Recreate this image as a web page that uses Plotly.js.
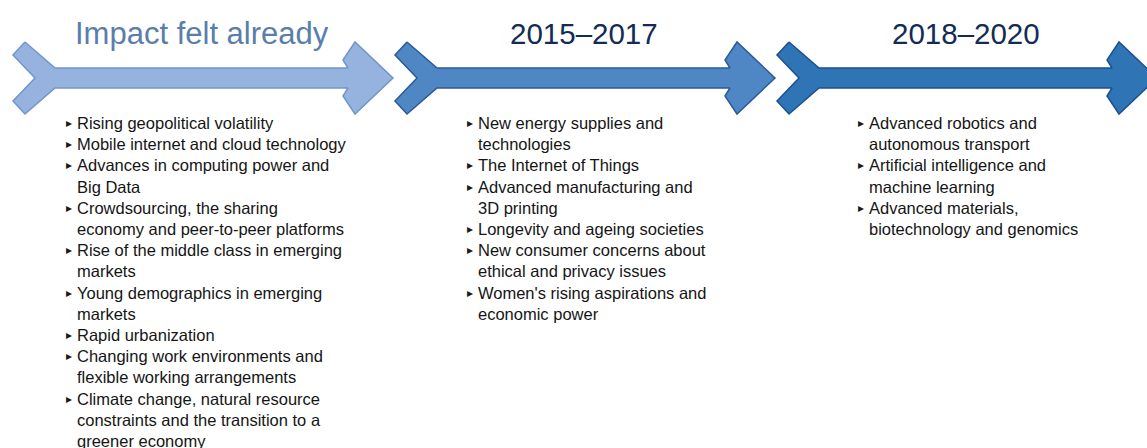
<!DOCTYPE html>
<html>
<head>
<meta charset="utf-8">
<script src="https://cdn.plot.ly/plotly-3.0.1.min.js"></script>
<style>html,body{margin:0;padding:0;background:#fff;}#chart{width:1147px;height:448px;}</style>
</head>
<body>
<div id="chart"></div>
<script>
// ---- data ----
const stages = ["Impact felt already", "2015\u20132017", "2018\u20132020"];
const itemsNow = [
  ["Rising geopolitical volatility"],
  ["Mobile internet and cloud technology"],
  ["Advances in computing power and", "Big Data"],
  ["Crowdsourcing, the sharing", "economy and peer-to-peer platforms"],
  ["Rise of the middle class in emerging", "markets"],
  ["Young demographics in emerging", "markets"],
  ["Rapid urbanization"],
  ["Changing work environments and", "flexible working arrangements"],
  ["Climate change, natural resource", "constraints and the transition to a", "greener economy"]
];
const items2015 = [
  ["New energy supplies and", "technologies"],
  ["The Internet of Things"],
  ["Advanced manufacturing and", "3D printing"],
  ["Longevity and ageing societies"],
  ["New consumer concerns about", "ethical and privacy issues"],
  ["Women's rising aspirations and", "economic power"]
];
const items2018 = [
  ["Advanced robotics and", "autonomous transport"],
  ["Artificial intelligence and", "machine learning"],
  ["Advanced materials,", "biotechnology and genomics"]
];
const stageItems = [itemsNow, items2015, items2018];

// ---- styling / layout constants ----
const fills = ["#95b3de", "#4f86c4", "#2f74b5"];
const edges = ["#7096c8", "#2b5a98", "#1d5090"];
const titleColors = ["#5a7eab", "#142b55", "#142b55"];
const titleSizes = [31, 29.5, 29.5];
const stageStart = 13, stageStep = 382;
const bulletOffset = [51, 70, 79];
const textOffset = [62, 81, 90];
const lineTop = 123, lineStep = 21.2;
const cy = 78;

const traces = [];
const annotations = [];

stages.forEach((s, i) => {
  const ox = stageStart + i * stageStep;
  const xs = [ox+12, ox, ox+22, ox, ox+12, ox+42, ox+335, ox+330, ox+342, ox+380, ox+342, ox+330, ox+335, ox+42, ox+12];
  const ys = [cy-36, cy-23, cy, cy+23, cy+36, cy+10, cy+10, cy+18, cy+36, cy, cy-36, cy-18, cy-10, cy-10, cy-36];
  traces.push({
    type: "scatter", mode: "lines", x: xs, y: ys, fill: "toself",
    fillcolor: fills[i], line: {color: edges[i], width: 1.5},
    hoverinfo: "skip", showlegend: false
  });
  annotations.push({
    x: ox + 189, y: 33, xref: "x", yref: "y", text: s, showarrow: false,
    xanchor: "center", yanchor: "middle",
    font: {family: "Liberation Sans, Arial, sans-serif", size: titleSizes[i], color: titleColors[i]}
  });
  let line = 0;
  stageItems[i].forEach(item => {
    annotations.push({
      x: ox + bulletOffset[i], y: lineTop + line * lineStep, xref: "x", yref: "y",
      text: "\u25B8", showarrow: false, xanchor: "left", yanchor: "middle",
      font: {family: "DejaVu Sans, sans-serif", size: 12, color: "#1a1a1a"}
    });
    item.forEach(t => {
      annotations.push({
        x: ox + textOffset[i], y: lineTop + line * lineStep, xref: "x", yref: "y",
        text: t, showarrow: false, xanchor: "left", yanchor: "middle",
        font: {family: "Liberation Sans, Arial, sans-serif", size: 16.5, color: "#151515"}
      });
      line++;
    });
  });
});

const layout = {
  width: 1147, height: 448,
  margin: {l: 0, r: 0, t: 0, b: 0},
  paper_bgcolor: "#fff", plot_bgcolor: "#fff",
  xaxis: {range: [0, 1147], visible: false, fixedrange: true},
  yaxis: {range: [448, 0], visible: false, fixedrange: true},
  annotations: annotations,
  showlegend: false
};
Plotly.newPlot("chart", traces, layout, {staticPlot: true, displayModeBar: false});
</script>
</body>
</html>
